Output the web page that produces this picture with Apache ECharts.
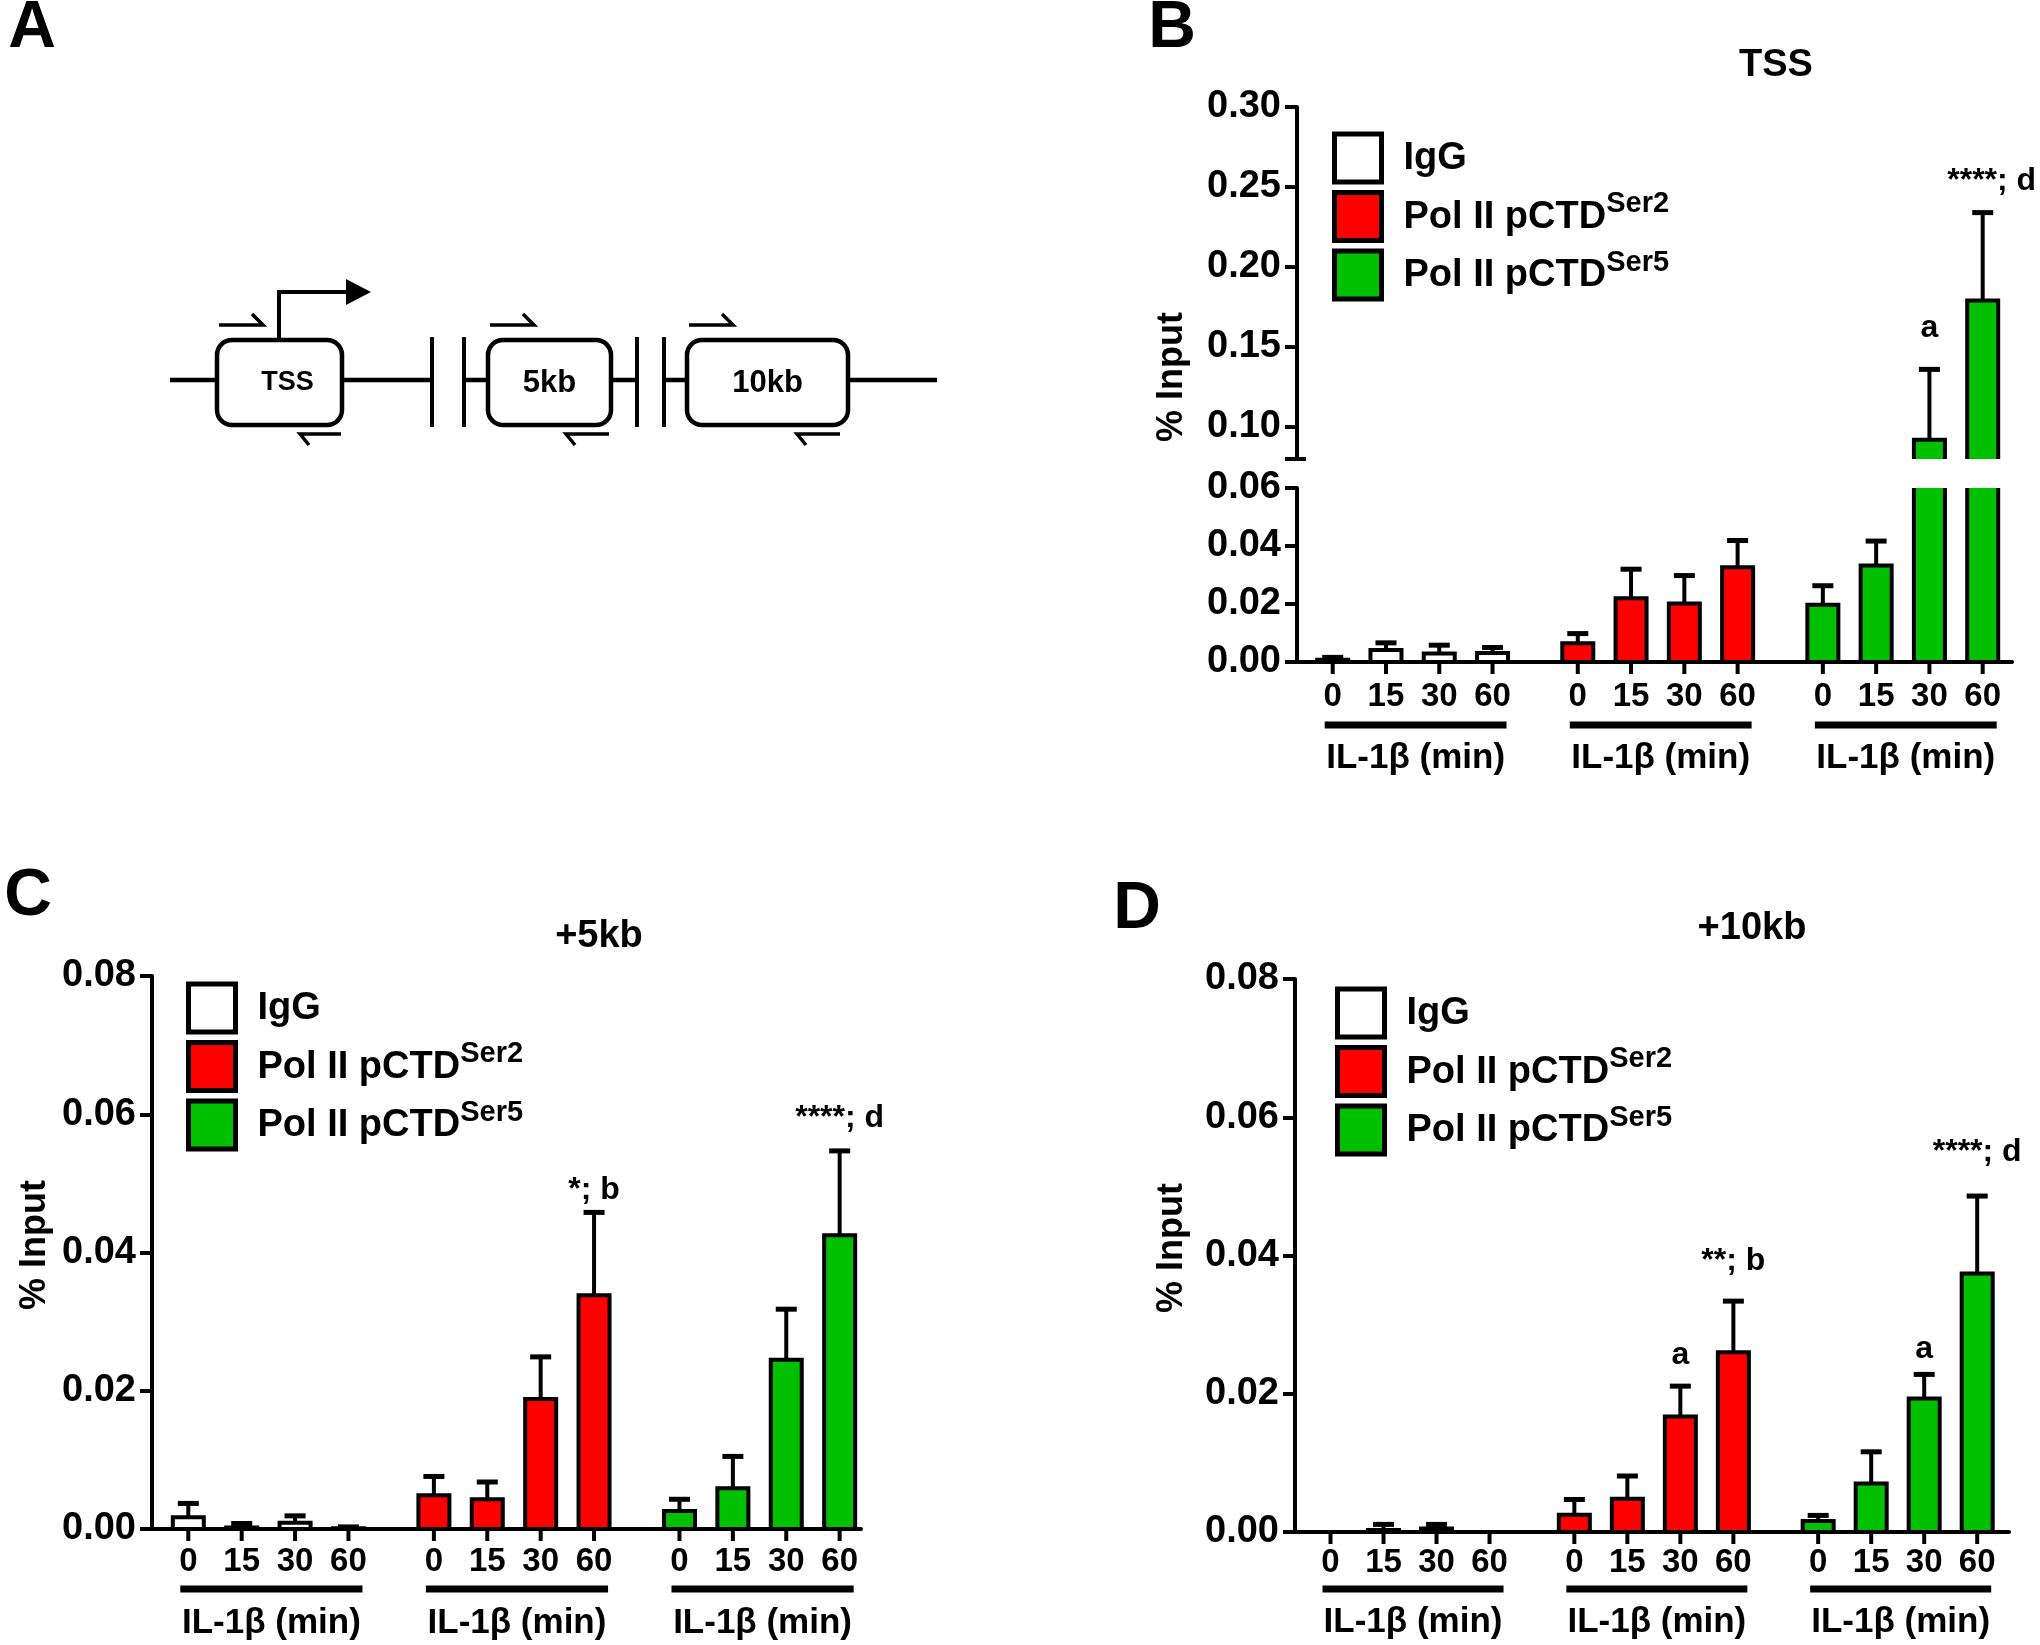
<!DOCTYPE html>
<html>
<head>
<meta charset="utf-8">
<script src="https://cdn.jsdelivr.net/npm/echarts@6/dist/echarts.min.js"></script>
<style>html,body{margin:0;padding:0;background:#fff}#c{width:2040px;height:1645px}</style>
</head>
<body>
<div id="c"></div>
<script>
// ---------------- data ----------------
const timeLabels = ['0', '15', '30', '60'];
const groupLabel = 'IL-1\u03b2 (min)';
const seriesNames = ['IgG', 'Pol II pCTDSer2', 'Pol II pCTDSer5'];
const legendMain = ['IgG', 'Pol II pCTD', 'Pol II pCTD'];
const legendSup = ['', 'Ser2', 'Ser5'];
const panelTitles = ['TSS', '+5kb', '+10kb'];
const panelLetters = ['A', 'B', 'C', 'D'];
const regionLabels = ['TSS', '5kb', '10kb'];
const yAxisTitle = '% Input';

// TSS (panel B) – upper broken segment tick labels
const tssUpperTicks = [0.10, 0.15, 0.20, 0.25, 0.30];
const tssIgG = [0.0008, 0.0041, 0.0029, 0.0031];
const tssIgGSem = [0.0008, 0.0025, 0.0029, 0.0019];
const tssSer2 = [0.0065, 0.0220, 0.0202, 0.0327];
const tssSer2Sem = [0.0033, 0.0100, 0.0096, 0.0092];
const tssSer5 = [0.0197, 0.0333, 0.0920, 0.1790];
const tssSer5Sem = [0.0066, 0.0084, 0.0440, 0.0550];
const tssNotesIgG = ['', '', '', ''];
const tssNotesSer2 = ['', '', '', ''];
const tssNotesSer5 = ['', '', 'a', '****; d'];

// +5kb (panel C)
const kb5IgG = [0.0017, 0.0002, 0.0009, 0.0001];
const kb5IgGSem = [0.0020, 0.0006, 0.0010, 0.0002];
const kb5Ser2 = [0.0049, 0.0043, 0.0188, 0.0338];
const kb5Ser2Sem = [0.0027, 0.0025, 0.0061, 0.0120];
const kb5Ser5 = [0.0026, 0.0059, 0.0245, 0.0425];
const kb5Ser5Sem = [0.0017, 0.0046, 0.0073, 0.0122];
const kb5NotesIgG = ['', '', '', ''];
const kb5NotesSer2 = ['', '', '', '*; b'];
const kb5NotesSer5 = ['', '', '', '****; d'];

// +10kb (panel D)
const kb10IgG = [0, 0.0003, 0.0005, 0];
const kb10IgGSem = [0, 0.0008, 0.0006, 0];
const kb10Ser2 = [0.0025, 0.0048, 0.0167, 0.0260];
const kb10Ser2Sem = [0.0022, 0.0033, 0.0044, 0.0074];
const kb10Ser5 = [0.0016, 0.0070, 0.0193, 0.0374];
const kb10Ser5Sem = [0.0008, 0.0046, 0.0035, 0.0112];
const kb10NotesIgG = ['', '', '', ''];
const kb10NotesSer2 = ['', '', 'a', '**; b'];
const kb10NotesSer5 = ['', '', 'a', '****; d'];

// ---------------- layout / style ----------------
const FONT = "'Liberation Sans', Arial, Helvetica, sans-serif";
const COLORS = ['#ffffff', '#ff0000', '#00c000'];
const GROUP_STEP = 4.6;
const pos = (g, i) => g * GROUP_STEP + i;
const BAR_W = 31, BAR_STROKE = 4;
const NOTE_GAP = 12;

const panels = [
  {
    title: panelTitles[0], titleXY: [1776, 66], letter: panelLetters[1], letterXY: [1172, 29],
    yTitleXY: [1172, 377],
    left: 1297, width: 715, xmin: -0.67, xmax: 12.75,
    rows: [
      { top: 107, height: 352, ymin: 0.08, ymax: 0.30, tickValues: [0.08].concat(tssUpperTicks), labelValues: tssUpperTicks, showX: false, breakMark: true },
      { top: 488, height: 174, ymin: 0, ymax: 0.06, interval: 0.02, showX: true }
    ],
    means: [tssIgG, tssSer2, tssSer5], sems: [tssIgGSem, tssSer2Sem, tssSer5Sem],
    notes: [tssNotesIgG, tssNotesSer2, tssNotesSer5],
    noteShift: [[0, 0, 0, 0], [0, 0, 0, 0], [[0, 0], [0, 0], [0, 13], [9, 3]]],
    decor: [35, 63, 96], legend: [1332, 131]
  },
  {
    title: panelTitles[1], titleXY: [599, 937], letter: panelLetters[2], letterXY: [28, 897],
    yTitleXY: [35, 1245],
    left: 152, width: 709, xmin: -0.68, xmax: 12.6,
    rows: [{ top: 976, height: 553, ymin: 0, ymax: 0.08, interval: 0.02, showX: true }],
    means: [kb5IgG, kb5Ser2, kb5Ser5], sems: [kb5IgGSem, kb5Ser2Sem, kb5Ser5Sem],
    notes: [kb5NotesIgG, kb5NotesSer2, kb5NotesSer5],
    noteShift: [[0, 0, 0, 0], [[0, 0], [0, 0], [0, 0], [0, -6]], [[0, 0], [0, 0], [0, 0], [0, 5]]],
    decor: [33, 60, 94], legend: [186, 981]
  },
  {
    title: panelTitles[2], titleXY: [1752, 929], letter: panelLetters[3], letterXY: [1137, 910],
    yTitleXY: [1172, 1248],
    left: 1295, width: 714, xmin: -0.67, xmax: 12.8,
    rows: [{ top: 979, height: 553, ymin: 0, ymax: 0.08, interval: 0.02, showX: true }],
    means: [kb10IgG, kb10Ser2, kb10Ser5], sems: [kb10IgGSem, kb10Ser2Sem, kb10Ser5Sem],
    notes: [kb10NotesIgG, kb10NotesSer2, kb10NotesSer5],
    noteShift: [[0, 0, 0, 0], [[0, 0], [0, 0], [0, 3], [0, 12]], [[0, 0], [0, 0], [0, -3], [0, 16]]],
    decor: [31, 57, 90], legend: [1335, 986]
  }
];

const grids = [], xAxes = [], yAxes = [], series = [], legends = [], graphics = [];

function addGrid(p, r) {
  const idx = grids.length;
  grids.push({ left: p.left, top: r.top, width: p.width, height: r.height, containLabel: false });
  xAxes.push({
    gridIndex: idx, type: 'value', min: p.xmin, max: p.xmax, show: r.showX, position: 'bottom',
    axisLine: { show: r.showX, onZero: false, lineStyle: { color: '#000', width: 4 } },
    axisTick: { show: false }, axisLabel: { show: false }, splitLine: { show: false }
  });
  const y = {
    gridIndex: idx, type: 'value', min: r.ymin, max: r.ymax, position: 'left',
    axisLine: { show: true, onZero: false, lineStyle: { color: '#000', width: 4 } },
    axisTick: { show: true, length: 12, lineStyle: { color: '#000', width: 4 } },
    axisLabel: { show: true, margin: 16, fontFamily: FONT, fontWeight: 'bold', fontSize: 38, color: '#000',
      formatter: v => Number(v).toFixed(2) },
    splitLine: { show: false }
  };
  if (r.interval) y.interval = r.interval;
  if (r.tickValues) { y.axisTick.customValues = r.tickValues; y.axisLabel.customValues = r.labelValues; }
  yAxes.push(y);
  return idx;
}

function barSeries(gi, g, means) {
  return {
    type: 'custom', name: seriesNames[g], xAxisIndex: gi, yAxisIndex: gi, clip: true, z: 3,
    itemStyle: { color: COLORS[g] }, encode: { x: 0, y: 1 },
    data: means.map((v, i) => [pos(g, i), v]),
    renderItem(params, api) {
      const x = api.value(0), v = api.value(1);
      const t = api.coord([x, v]), b = api.coord([x, 0]);
      return { type: 'rect', shape: { x: t[0] - BAR_W / 2, y: Math.min(t[1], b[1]), width: BAR_W, height: Math.abs(b[1] - t[1]) },
        style: { fill: COLORS[g], stroke: '#000', lineWidth: BAR_STROKE } };
    }
  };
}

function errSeries(gi, g, means, sems) {
  return {
    type: 'custom', xAxisIndex: gi, yAxisIndex: gi, clip: true, z: 4, silent: true, encode: { x: 0, y: 1 },
    data: means.map((v, i) => [pos(g, i), v, sems[i]]),
    renderItem(params, api) {
      const x = api.value(0), m = api.value(1), s = api.value(2);
      if (!(s > 0)) return null;
      const a = api.coord([x, m]), b = api.coord([x, m + s]);
      return { type: 'group', children: [
        { type: 'line', shape: { x1: a[0], y1: a[1], x2: b[0], y2: b[1] }, style: { stroke: '#000', lineWidth: 4 } },
        { type: 'line', shape: { x1: b[0] - 10.5, y1: b[1], x2: b[0] + 10.5, y2: b[1] }, style: { stroke: '#000', lineWidth: 5 } }
      ] };
    }
  };
}

function noteSeries(gi, g, means, sems, notes, shift, r) {
  return {
    type: 'custom', xAxisIndex: gi, yAxisIndex: gi, clip: false, z: 5, silent: true, encode: { x: 0, y: 1 },
    data: means.map((v, i) => [pos(g, i), v + sems[i], i]),
    renderItem(params, api) {
      const i = api.value(2);
      const txt = notes[i];
      const top = api.value(1);
      if (!txt || top < r.ymin || top > r.ymax) return null;
      const p = api.coord([api.value(0), top]);
      const sh = Array.isArray(shift[i]) ? shift[i] : [0, 0];
      return { type: 'text', x: p[0] + sh[0], y: p[1] - NOTE_GAP - sh[1],
        style: { text: txt, font: 'bold 32px ' + FONT, fill: '#000', align: 'center', verticalAlign: 'bottom' } };
    }
  };
}

function breakSeries(gi, p, r) {
  return {
    type: 'custom', xAxisIndex: gi, yAxisIndex: gi, clip: false, z: 5, silent: true, encode: { x: 0, y: 1 },
    data: [[p.xmin, r.ymin]],
    renderItem(params, api) {
      const c = api.coord([api.value(0), api.value(1)]);
      return { type: 'line', shape: { x1: c[0] - 12, y1: c[1], x2: c[0] + 9, y2: c[1] }, style: { stroke: '#000', lineWidth: 4 } };
    }
  };
}

function decorSeries(gi, off) {
  const data = [];
  for (let g = 0; g < 3; g++) for (let i = 0; i < 4; i++) data.push([pos(g, i), i, g]);
  return {
    type: 'custom', xAxisIndex: gi, yAxisIndex: gi, clip: false, z: 5, silent: true, encode: { x: 0, y: 1 },
    data,
    renderItem(params, api) {
      const x = api.value(0), i = api.value(1);
      const p = api.coord([x, 0]);
      const kids = [
        { type: 'line', shape: { x1: p[0], y1: p[1], x2: p[0], y2: p[1] + 12 }, style: { stroke: '#000', lineWidth: 4 } },
        { type: 'text', x: p[0], y: p[1] + off[0],
          style: { text: timeLabels[i], font: 'bold 33px ' + FONT, fill: '#000', align: 'center', verticalAlign: 'middle' } }
      ];
      if (i === 0) {
        const q = api.coord([x + 3, 0]);
        const l = p[0] - 8, rr = q[0] + 14;
        kids.push({ type: 'line', shape: { x1: l, y1: p[1] + off[1], x2: rr, y2: p[1] + off[1] }, style: { stroke: '#000', lineWidth: 7 } });
        kids.push({ type: 'text', x: (l + rr) / 2, y: p[1] + off[2],
          style: { text: groupLabel, font: 'bold 35px ' + FONT, fill: '#000', align: 'center', verticalAlign: 'middle' } });
      }
      return { type: 'group', children: kids };
    }
  };
}

const richLegend = {
  g: { width: 17, fontSize: 10 },
  m: { fontFamily: FONT, fontWeight: 'bold', fontSize: 38, color: '#000', lineHeight: 40, verticalAlign: 'bottom', padding: [9, 0, 0, 0] },
  s: { fontFamily: FONT, fontWeight: 'bold', fontSize: 29, color: '#000', lineHeight: 28, verticalAlign: 'bottom', padding: [0, 0, 18, 0] }
};

panels.forEach(p => {
  const gridIdx = p.rows.map(r => addGrid(p, r));
  gridIdx.forEach((gi, k) => {
    const r = p.rows[k];
    for (let g = 0; g < 3; g++) {
      series.push(barSeries(gi, g, p.means[g]));
      series.push(errSeries(gi, g, p.means[g], p.sems[g]));
      series.push(noteSeries(gi, g, p.means[g], p.sems[g], p.notes[g], p.noteShift[g], r));
    }
    if (r.breakMark) series.push(breakSeries(gi, p, r));
  });
  series.push(decorSeries(gridIdx[gridIdx.length - 1], p.decor));
  legends.push({
    orient: 'vertical', left: p.legend[0], top: p.legend[1], padding: 0,
    itemWidth: 47, itemHeight: 48, itemGap: 5, icon: 'rect', selectedMode: false,
    data: seriesNames, itemStyle: { borderColor: '#000', borderWidth: 5 },
    formatter: name => {
      const k = seriesNames.indexOf(name);
      return '{g| }{m|' + legendMain[k] + '}' + (legendSup[k] ? '{s|' + legendSup[k] + '}' : '');
    },
    textStyle: { rich: richLegend }
  });
  graphics.push({ type: 'text', x: p.titleXY[0], y: p.titleXY[1],
    style: { text: p.title, font: 'bold 38px ' + FONT, fill: '#000', align: 'center', verticalAlign: 'middle' } });
  graphics.push({ type: 'text', x: p.letterXY[0], y: p.letterXY[1],
    style: { text: p.letter, font: 'bold 66px ' + FONT, fill: '#000', align: 'center', verticalAlign: 'middle' } });
  graphics.push({ type: 'text', x: p.yTitleXY[0], y: p.yTitleXY[1], rotation: Math.PI / 2,
    style: { text: yAxisTitle, font: 'bold 36px ' + FONT, fill: '#000', align: 'center', verticalAlign: 'middle' } });
});

// ---------------- panel A: gene diagram ----------------
graphics.push({ type: 'text', x: 32, y: 29,
  style: { text: panelLetters[0], font: 'bold 66px ' + FONT, fill: '#000', align: 'center', verticalAlign: 'middle' } });
const lineY = 380;
[[170, 432], [464, 637], [664, 937]].forEach(([a, b]) =>
  graphics.push({ type: 'line', shape: { x1: a, y1: lineY, x2: b, y2: lineY }, style: { stroke: '#000', lineWidth: 4.5 } }));
[432, 464, 637, 664].forEach(x =>
  graphics.push({ type: 'line', shape: { x1: x, y1: 337, x2: x, y2: 427 }, style: { stroke: '#000', lineWidth: 4 } }));
const boxes = [[217, 342, 27], [488, 611, 31], [687, 848, 31]];
boxes.forEach(([a, b, fs], k) => {
  graphics.push({ type: 'rect', shape: { x: a, y: 340, width: b - a, height: 85, r: 15 },
    style: { fill: '#fff', stroke: '#000', lineWidth: 4.5 } });
  graphics.push({ type: 'text', x: (a + b) / 2 + (k === 0 ? 8 : 0), y: 383,
    style: { text: regionLabels[k], font: 'bold ' + fs + 'px ' + FONT, fill: '#000', align: 'center', verticalAlign: 'middle' } });
});
[[219, 263], [490, 534], [689, 733]].forEach(([a, b]) =>
  graphics.push({ type: 'polyline', shape: { points: [[a, 325], [b, 325], [b - 11, 314]] }, style: { stroke: '#000', lineWidth: 3.5, fill: null } }));
[[300, 341], [566, 609], [797, 840]].forEach(([a, b]) =>
  graphics.push({ type: 'polyline', shape: { points: [[b, 434], [a, 434], [a + 9, 445]] }, style: { stroke: '#000', lineWidth: 3.5, fill: null } }));
graphics.push({ type: 'polyline', shape: { points: [[279, 338], [279, 292], [348, 292]] }, style: { stroke: '#000', lineWidth: 4, fill: null } });
graphics.push({ type: 'polygon', shape: { points: [[346, 279], [371, 292], [346, 305]] }, style: { fill: '#000' } });

const chart = echarts.init(document.getElementById('c'), null, { renderer: 'canvas' });
chart.setOption({
  animation: false,
  backgroundColor: '#fff',
  textStyle: { fontFamily: FONT },
  grid: grids, xAxis: xAxes, yAxis: yAxes,
  legend: legends, series,
  graphic: { elements: graphics }
});
</script>
</body>
</html>
